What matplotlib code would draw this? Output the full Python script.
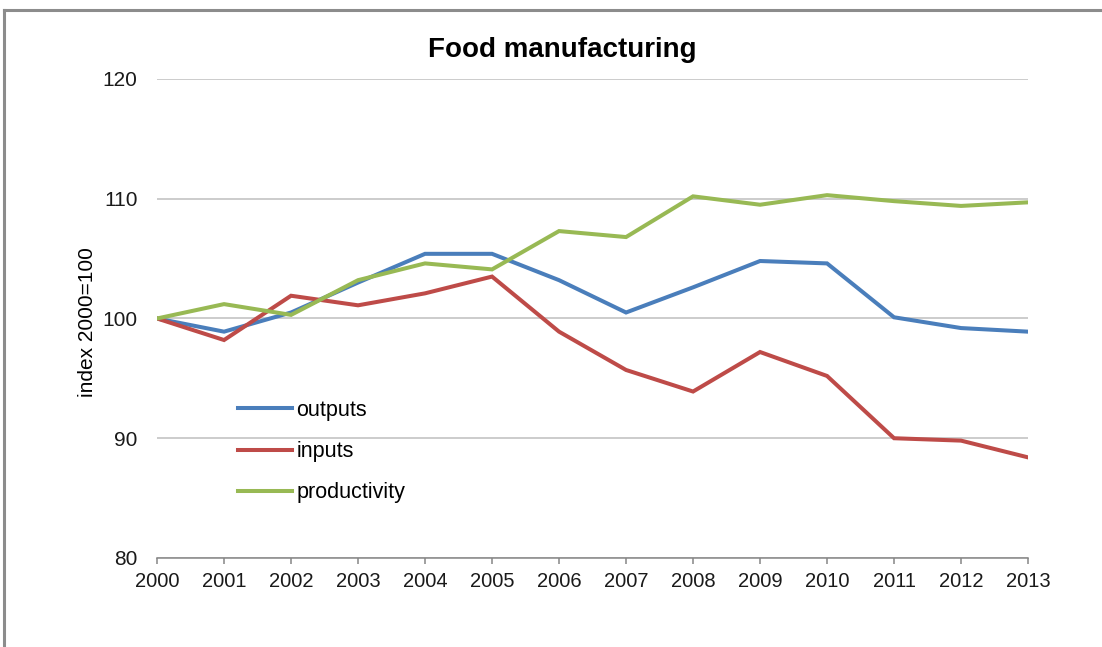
import numpy as np
import matplotlib
matplotlib.use("Agg")
import matplotlib.pyplot as plt
from matplotlib.lines import Line2D

plt.rcParams['font.family'] = ['Liberation Sans', 'DejaVu Sans']

# index values, 2000 = 100
years = list(range(2000, 2014))
outputs = [100.0, 98.9, 100.5, 103.0, 105.4, 105.4, 103.2, 100.5, 102.6, 104.8, 104.6, 100.1, 99.2, 98.9]
inputs = [100.0, 98.2, 101.9, 101.1, 102.1, 103.5, 98.9, 95.7, 93.9, 97.2, 95.2, 90.0, 89.8, 88.4]
productivity = [100.0, 101.2, 100.3, 103.2, 104.6, 104.1, 107.3, 106.8, 110.2, 109.5, 110.3, 109.8, 109.4, 109.7]
y_ticks = [80, 90, 100, 110, 120]

fig = plt.figure(figsize=(11.02, 6.47), dpi=100)
ax = fig.add_axes([0.1425, 0.1376, 0.7904, 0.7403])

ax.plot(years, outputs, color='#4A7EBB', lw=2.9, label='outputs', solid_joinstyle='miter')
ax.plot(years, inputs, color='#BE4B48', lw=2.9, label='inputs', solid_joinstyle='miter')
ax.plot(years, productivity, color='#98B954', lw=2.9, label='productivity', solid_joinstyle='miter')

ax.set_xlim(2000, 2013)
ax.set_ylim(80, 120)
ax.set_xticks(years)
ax.set_yticks(y_ticks)
ax.grid(axis='y', color='#BFBFBF', lw=1.1)
ax.set_axisbelow(True)

for side in ['left', 'right', 'top']:
    ax.spines[side].set_visible(False)
ax.spines['bottom'].set_color('#868686')
ax.spines['bottom'].set_linewidth(1.1)
ax.tick_params(axis='y', length=0, pad=14, labelsize=15, labelcolor='#1a1a1a')
ax.tick_params(axis='x', length=4, width=1.1, color='#868686', pad=6, labelsize=14.5, labelcolor='#1a1a1a')

ax.legend(loc='upper left', bbox_to_anchor=(0.093, 0.330), frameon=False, fontsize=15.5,
          handlelength=2.5, handletextpad=0.2, labelspacing=0.94, borderpad=0, borderaxespad=0)

fig.text(0.51, 0.923, 'Food manufacturing', ha='center', va='center', fontsize=20, fontweight='bold')
fig.text(0.079, 0.502, 'index 2000=100', rotation=90, ha='center', va='center', fontsize=15)

# outer frame around the chart
frame_kw = dict(color='#8C8C8C', lw=2.2, transform=fig.transFigure)
fig.add_artist(Line2D([0.004, 1.0], [1 - 10 / 647, 1 - 10 / 647], **frame_kw))
fig.add_artist(Line2D([0.004, 0.004], [0.0, 1 - 10 / 647], **frame_kw))

fig.savefig('out.png', dpi=100)
